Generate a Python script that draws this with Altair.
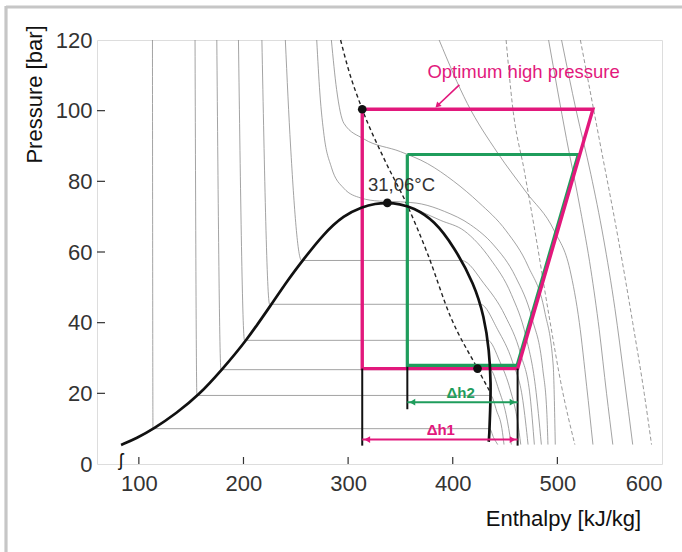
import altair as alt
import pandas as pd

X_DOMAIN = [60, 600]
Y_DOMAIN = [0, 120]
X_TICKS = [100, 200, 300, 400, 500, 600]
Y_TICKS = [0, 20, 40, 60, 80, 100, 120]

# saturation dome (liquid line -> critical point -> vapour line)
DOME_H = [83, 98, 114.5, 136, 157, 179.5, 203, 226.7, 243, 256.5, 276.7, 295.9, 313.5, 326, 337.5,
          349, 362, 382.2, 401.4, 420.5, 430.1, 434.9, 436.5, 435.8, 434.9, 434.3]
DOME_P = [5.4, 7.3, 10, 14.4, 19.4, 26.7, 35, 45.2, 52.3, 57.6, 65.2, 70.4, 72.8, 73.7, 73.9,
          73.6, 72.6, 69, 61.4, 51, 41.6, 32.2, 22.7, 15.2, 7.6, 6.3]

# thin isotherms (solid grey): liquid part, two-phase part, vapour part
ISO_M40_H = [113, 113.5, 435.2, 439, 443]
ISO_M40_P = [120, 10, 10, 7.5, 5.5]
ISO_M20_H = [153.7, 155.5, 436.2, 442, 447, 449]
ISO_M20_P = [120, 19.4, 19.4, 15, 10, 5.5]
ISO_M10_H = [174.5, 178.5, 435.8, 444, 451, 456]
ISO_M10_P = [120, 26.7, 26.7, 21, 14, 5.5]
ISO_0_H = [195.2, 201, 433.5, 445, 455, 462, 465]
ISO_0_P = [120, 35, 35, 29, 21, 12, 5.5]
ISO_10_H = [217.6, 225, 426.4, 443, 457, 467, 472]
ISO_10_P = [120, 45.2, 45.2, 38, 29, 18, 5.5]
ISO_20_H = [240, 245, 255.5, 408.4, 430, 450, 465, 474, 478]
ISO_20_P = [120, 90, 57.6, 57.6, 51, 42, 31, 19, 5.5]
ISO_30_H = [364, 388, 411, 436, 456, 470, 479, 484.7]
ISO_30_P = [72.2, 69, 66, 58, 48, 36, 22, 5.5]
ISO_31_H = [270, 273, 277, 284, 296, 312, 330, 350, 370, 392, 417, 439, 460, 476, 486, 490, 491]
ISO_31_P = [120, 105, 93, 84, 78, 75.3, 74.4, 74.2, 73.6, 71.5, 67.7, 62, 53, 41, 27, 14, 5.5]
ISO_40_H = [284, 289, 296, 315, 350, 376, 401, 425, 451, 472, 488, 496, 498]
ISO_40_P = [120, 106, 96.4, 92, 88.4, 85, 80, 74, 66, 56, 43, 28, 5.5]
ISO_60_H = [387, 414, 443, 470, 497, 512, 521, 528, 534]
ISO_60_P = [120, 102, 88, 77, 66, 55, 40, 22, 5.5]
ISO_110_H = [491.6, 508.6, 522, 532, 540, 547, 553]
ISO_110_P = [120, 92.2, 72, 55, 38, 20, 5.5]
ISO_120_H = [504, 518, 532, 544, 555, 564, 572]
ISO_120_P = [120, 100, 82, 64, 44, 24, 5.5]

# dashed grey lines
DSH_1_H = [451, 457, 468.5, 479.7, 492, 504, 516.7]
DSH_1_P = [120, 101.7, 82.8, 63.9, 42, 22, 5.5]
DSH_2_H = [522, 540, 558, 572, 583, 590]
DSH_2_P = [120, 92, 64, 40, 20, 5.5]

# black dashed line
OPT_H = [292.8, 300, 313.5, 335, 356.6, 375.8, 398, 423.7, 434.9]
OPT_P = [120, 112, 100.4, 86, 73.2, 59.6, 41.6, 27, 20.8]

# cycles
MAG_H = [313.5, 534, 462, 313.5, 313.5]
MAG_P = [100.4, 100.4, 27.0, 27.0, 100.4]
GRN_H = [356.6, 520, 461.5, 356.6, 356.6]
GRN_P = [87.6, 87.6, 27.9, 27.9, 87.6]

# black vertical drop lines
DROP_H = [313.5, 462, 356.6]
DROP_P_TOP = [27, 27, 27.5]
DROP_P_BOT = [5.2, 5.2, 15.5]

# delta-h arrows
DH_LABELS = ["\u0394h1", "\u0394h2"]
DH_FROM = [313.5, 356.6]
DH_TO = [462, 462]
DH_P = [6.9, 17.5]
DH_TEXT_H = [388.6, 407.5]
DH_TEXT_P = [9.6, 20.2]

# points
DOT_H = [313.5, 337.5, 423.7]
DOT_P = [100.4, 73.9, 27.0]

# annotation arrow
ANN_H = [406.3, 386.0]
ANN_P = [107.3, 101.6]

MAGENTA = "#e2187c"
GREEN = "#1f9d5c"
GREY = "#8c8c8c"
FONT = "Liberation Sans"


def lines_df(series):
    rows = []
    for name, hs, ps in series:
        for i, (h, p) in enumerate(zip(hs, ps)):
            rows.append({"line": name, "i": i, "h": h, "p": p})
    return pd.DataFrame(rows)


xs = alt.Scale(domain=X_DOMAIN, nice=False, zero=False)
ys = alt.Scale(domain=Y_DOMAIN, nice=False, zero=False)

X_AXIS = alt.Axis(
    values=X_TICKS, tickSize=0, domain=False, grid=False, labelPadding=9,
    labelFontSize=22, labelColor="#333", labelFont=FONT,
    title="Enthalpy [kJ/kg]", titleFont=FONT, titleFontSize=22, titleFontWeight="normal",
    titleColor="#111", titleX=466, titleY=54, titleAlign="center", titleBaseline="middle")
Y_AXIS = alt.Axis(
    values=Y_TICKS, tickSize=0, domain=False, grid=False, labelPadding=5,
    labelFontSize=22, labelColor="#333", labelFont=FONT,
    title="Pressure [bar]", titleFont=FONT, titleFontSize=22, titleFontWeight="normal",
    titleColor="#111", titleX=-63, titleY=54, titleAngle=-90, titleAlign="center",
    titleBaseline="middle")


def X(f="h"):
    return alt.X(f"{f}:Q", scale=xs, axis=X_AXIS)


def Y(f="p"):
    return alt.Y(f"{f}:Q", scale=ys, axis=Y_AXIS)


iso_solid = lines_df([
    ("m40", ISO_M40_H, ISO_M40_P), ("m20", ISO_M20_H, ISO_M20_P), ("m10", ISO_M10_H, ISO_M10_P),
    ("0", ISO_0_H, ISO_0_P), ("10", ISO_10_H, ISO_10_P), ("20", ISO_20_H, ISO_20_P),
    ("30", ISO_30_H, ISO_30_P), ("31", ISO_31_H, ISO_31_P), ("40", ISO_40_H, ISO_40_P),
    ("60", ISO_60_H, ISO_60_P), ("110", ISO_110_H, ISO_110_P), ("120", ISO_120_H, ISO_120_P),
])
iso_dash = lines_df([("d1", DSH_1_H, DSH_1_P), ("d2", DSH_2_H, DSH_2_P)])

ytick = alt.Chart(pd.DataFrame({"p": Y_TICKS[1:-1]})).mark_rule(color="#333", strokeWidth=1.2).encode(
    y=Y(), x=alt.value(0), x2=alt.value(8))
xtick = alt.Chart(pd.DataFrame({"h": X_TICKS[:-1]})).mark_rule(color="#333", strokeWidth=1.2).encode(
    x=X(), y=alt.value(424), y2=alt.value(417))

border = alt.Chart(alt.Data(values=[{}])).mark_rule(color="#c6c6c6", strokeWidth=3.2)
border_top = border.encode(x=alt.value(-91), x2=alt.value(590), y=alt.value(-33))
border_left = border.encode(x=alt.value(-91), y=alt.value(-34), y2=alt.value(520))

grey_solid = alt.Chart(iso_solid).mark_line(color=GREY, strokeWidth=0.8, interpolate="monotone").encode(
    x=X(), y=Y(), detail="line:N", order="i:Q")
grey_dash = alt.Chart(iso_dash).mark_line(color=GREY, strokeWidth=0.9, strokeDash=[4, 2.5],
                                          interpolate="monotone").encode(
    x=X(), y=Y(), detail="line:N", order="i:Q")

opt = alt.Chart(lines_df([("opt", OPT_H, OPT_P)])).mark_line(
    color="#222", strokeWidth=1.4, strokeDash=[4, 3], interpolate="monotone").encode(
    x=X(), y=Y(), order="i:Q")

dome = alt.Chart(lines_df([("dome", DOME_H, DOME_P)])).mark_line(
    color="#111", strokeWidth=2.7, interpolate="basis").encode(x=X(), y=Y(), order="i:Q")

drops = alt.Chart(pd.DataFrame({"h": DROP_H, "p": DROP_P_TOP, "p2": DROP_P_BOT})).mark_rule(
    color="#111", strokeWidth=2).encode(x=X(), y=Y(), y2="p2:Q")

green = alt.Chart(lines_df([("g", GRN_H, GRN_P)])).mark_line(
    color=GREEN, strokeWidth=3.2, strokeJoin="miter").encode(x=X(), y=Y(), order="i:Q")
magenta = alt.Chart(lines_df([("m", MAG_H, MAG_P)])).mark_line(
    color=MAGENTA, strokeWidth=3.4, strokeJoin="miter").encode(x=X(), y=Y(), order="i:Q")

dh_df = pd.DataFrame({"lab": DH_LABELS, "h": DH_FROM, "h2": DH_TO, "p": DH_P,
                      "th": DH_TEXT_H, "tp": DH_TEXT_P})
dh_color = alt.Color("lab:N", scale=alt.Scale(domain=DH_LABELS, range=[MAGENTA, GREEN]), legend=None)
dh_line = alt.Chart(dh_df).mark_rule(strokeWidth=2).encode(x=X(), x2="h2:Q", y=Y(), color=dh_color)
dh_left = alt.Chart(dh_df).mark_point(shape="triangle-left", filled=True, size=45, opacity=1,
                                      xOffset=5).encode(x=X(), y=Y(), color=dh_color)
dh_right = alt.Chart(dh_df).mark_point(shape="triangle-right", filled=True, size=45, opacity=1,
                                       xOffset=-5).encode(x=X("h2"), y=Y(), color=dh_color)
dh_text = alt.Chart(dh_df).mark_text(font=FONT, fontSize=15, fontWeight="bold").encode(
    x=X("th"), y=Y("tp"), text="lab:N", color=dh_color)

dots = alt.Chart(pd.DataFrame({"h": DOT_H, "p": DOT_P})).mark_circle(
    color="#111", size=75, opacity=1).encode(x=X(), y=Y())

ann_line = alt.Chart(lines_df([("a", ANN_H, ANN_P)])).mark_line(
    color=MAGENTA, strokeWidth=1.6).encode(x=X(), y=Y(), order="i:Q")
ann_head = alt.Chart(pd.DataFrame({"h": ANN_H[1:], "p": ANN_P[1:]})).mark_point(
    shape="triangle", filled=True, size=40, angle=225, color=MAGENTA, opacity=1).encode(x=X(), y=Y())

texts = alt.Chart(pd.DataFrame({
    "h": [467.7, 351.0], "p": [111.0, 78.9],
    "t": ["Optimum high pressure", "31,06\u00b0C"], "c": ["mag", "dark"]})).mark_text(
    font=FONT, fontSize=18.5).encode(
    x=X(), y=Y(), text="t:N",
    color=alt.Color("c:N", scale=alt.Scale(domain=["mag", "dark"], range=[MAGENTA, "#333"]), legend=None))

brk = alt.Chart(pd.DataFrame({"h": [83], "p": [0]})).mark_text(
    text="\u0283", font=FONT, fontSize=18, color="#111", dy=-3).encode(x=X(), y=Y())

chart = alt.layer(
    border_top, border_left, grey_solid, grey_dash, opt, green, magenta, dome, drops,
    dh_line, dh_left, dh_right, dh_text, dots, ann_line, ann_head, texts, ytick, xtick, brk,
).resolve_scale(color="independent").properties(
    width=565, height=424,
    autosize=alt.AutoSizeParams(type="none"),
    padding={"left": 97, "top": 40, "right": 20, "bottom": 88},
).configure_view(stroke="#333", strokeWidth=1.3).configure(background="white")

chart.save("out.html", embed_options={"renderer": "svg", "actions": False})
